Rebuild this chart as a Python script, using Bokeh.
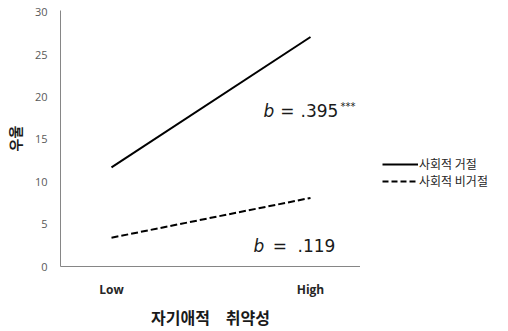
from bokeh.plotting import figure
from bokeh.layouts import row
from bokeh.models import Range1d, FixedTicker, Label, Legend, LegendItem
from bokeh.embed import file_html
from bokeh.resources import INLINE

# ---- data ----
x_levels = [0, 1]
x_tick_labels = ["Low", "High"]
rejection = [11.7, 27.1]        # 사회적 거절
non_rejection = [3.4, 8.1]      # 사회적 비거절
series_names = ["사회적 거절", "사회적 비거절"]
y_ticks = [0, 5, 10, 15, 20, 25, 30]
x_title = "자기애적\u3000취약성"
y_title = "우울"

KR = "Noto Sans CJK KR"
LAT = "Open Sans"
NUM = "DejaVu Sans"

p = figure(width=360, height=331, output_backend="svg", toolbar_location=None,
           x_range=Range1d(-0.2563, 1.2513), y_range=Range1d(0, 30.234),
           min_border_left=60, min_border_right=0, min_border_top=10,
           min_border_bottom=63)
p.outline_line_color = None
p.xgrid.visible = False
p.ygrid.visible = False

for ax in (p.xaxis[0], p.yaxis[0]):
    ax.axis_line_color = "#868686"
    ax.axis_line_width = 1
    ax.major_tick_in = 0
    ax.major_tick_out = 0
    ax.minor_tick_in = 0
    ax.minor_tick_out = 0

p.yaxis.ticker = FixedTicker(ticks=y_ticks)
p.yaxis.major_label_text_font = LAT
p.yaxis.major_label_text_font_size = "11px"
p.yaxis.major_label_text_color = "#595959"
p.yaxis.major_label_standoff = 13
p.yaxis.axis_label = y_title
p.yaxis.axis_label_text_font = KR
p.yaxis.axis_label_text_font_size = "14px"
p.yaxis.axis_label_text_font_style = "bold"
p.yaxis.axis_label_text_color = "#1a1a1a"
p.yaxis.axis_label_standoff = 7

p.xaxis.ticker = FixedTicker(ticks=x_levels)
p.xaxis.major_label_overrides = {x: lab for x, lab in zip(x_levels, x_tick_labels)}
p.xaxis.major_label_text_font = LAT
p.xaxis.major_label_text_font_size = "12px"
p.xaxis.major_label_text_font_style = "bold"
p.xaxis.major_label_text_color = "#262626"
p.xaxis.major_label_standoff = 14
p.xaxis.axis_label = x_title
p.xaxis.axis_label_text_font = KR
p.xaxis.axis_label_text_font_size = "16px"
p.xaxis.axis_label_text_font_style = "bold"
p.xaxis.axis_label_text_color = "#1a1a1a"
p.xaxis.axis_label_standoff = 4

p.line(x_levels, rejection, line_color="black", line_width=2)
p.line(x_levels, non_rejection, line_color="black", line_width=2, line_dash="7 3")

# slope annotations
def ann(x, y, text, size="17px", style="normal"):
    p.add_layout(Label(x=x, y=y, text=text, text_align="left", text_baseline="alphabetic",
                       text_font=NUM, text_font_size=size, text_font_style=style,
                       text_color="#1a1a1a"))

ann(0.764, 18.4, "b", style="italic")
ann(0.848, 18.4, "=")
ann(0.950, 18.4, ".395")
ann(1.151, 18.9, "***", size="10px")

ann(0.714, 2.46, "b", style="italic")
ann(0.810, 2.46, "=")
ann(0.935, 2.46, ".119")

# ---- legend panel (right side) ----
lg = figure(width=148, height=331, output_backend="svg", toolbar_location=None,
            x_range=Range1d(0, 1), y_range=Range1d(0, 1),
            x_axis_type=None, y_axis_type=None, min_border=0)
lg.outline_line_color = None
lg.xgrid.visible = False
lg.ygrid.visible = False
l1 = lg.line(x_levels, rejection, line_color="black", line_width=2)
l2 = lg.line(x_levels, non_rejection, line_color="black", line_width=2, line_dash="6 3")

legend = Legend(items=[LegendItem(label=series_names[0], renderers=[l1]),
                       LegendItem(label=series_names[1], renderers=[l2])],
                location=(22, 77), orientation="vertical",
                glyph_width=36, glyph_height=16, label_height=16, label_standoff=1,
                spacing=0, padding=0, margin=0,
                label_text_font=KR, label_text_font_size="12px", label_text_color="#262626",
                border_line_alpha=0, background_fill_alpha=0)
lg.add_layout(legend, "center")

layout = row(p, lg, spacing=0)
open("out.html", "w").write(file_html(layout, INLINE))
